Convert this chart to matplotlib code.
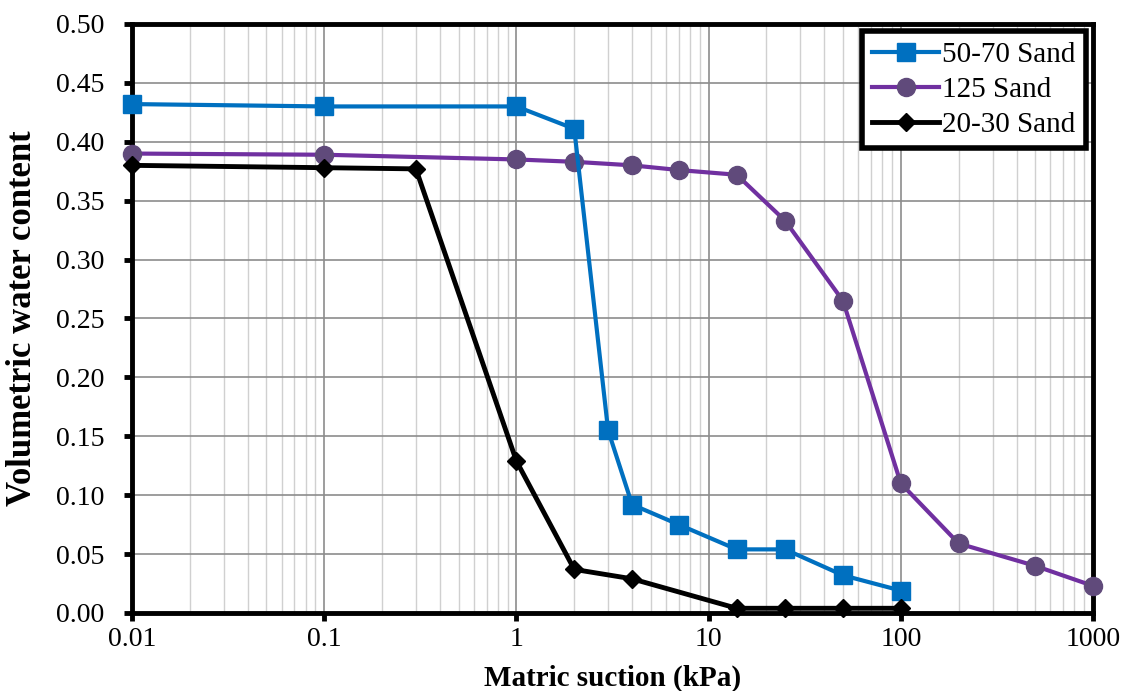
import matplotlib.pyplot as plt
from matplotlib.ticker import LogLocator, FixedLocator, NullFormatter

plt.rcParams['font.family'] = ['Liberation Serif', 'DejaVu Serif']

# Soil-water characteristic data
suction_5070 = [0.01, 0.1, 1, 2, 3, 4, 7, 14, 25, 50, 100]
theta_5070 = [0.432, 0.430, 0.430, 0.411, 0.155, 0.092, 0.075, 0.054, 0.054, 0.032, 0.019]

suction_125 = [0.01, 0.1, 1, 2, 4, 7, 14, 25, 50, 100, 200, 500, 1000]
theta_125 = [0.390, 0.389, 0.385, 0.383, 0.380, 0.376, 0.372, 0.333, 0.265, 0.110, 0.059, 0.040, 0.023]

suction_2030 = [0.01, 0.1, 0.3, 1, 2, 4, 14, 25, 50, 100]
theta_2030 = [0.380, 0.378, 0.377, 0.129, 0.037, 0.029, 0.004, 0.004, 0.004, 0.004]

x_ticks = [0.01, 0.1, 1, 10, 100, 1000]
x_tick_labels = ['0.01', '0.1', '1', '10', '100', '1000']

fig = plt.figure(figsize=(11.25, 6.91), dpi=100)
ax = fig.add_axes([0.1173, 0.1129, 0.8543, 0.8524])

ax.plot(suction_5070, theta_5070, color='#0070C0', lw=3, marker='s', ms=13,
        mfc='#0070C0', mec='#0070C0', label='50-70 Sand', zorder=4, clip_on=False)
ax.plot(suction_125, theta_125, color='#7030A0', lw=3, marker='o', ms=13,
        mfc='#604A7B', mec='#604A7B', label='125 Sand', zorder=3, clip_on=False)
ax.plot(suction_2030, theta_2030, color='black', lw=3.5, marker='D', ms=9,
        mfc='black', mec='black', label='20-30 Sand', zorder=5, clip_on=False)

ax.set_xscale('log')
ax.set_xlim(0.01, 1000)
ax.set_ylim(0, 0.5)

ax.xaxis.set_major_locator(FixedLocator(x_ticks))
ax.set_xticklabels(x_tick_labels)
ax.xaxis.set_minor_locator(LogLocator(base=10, subs=range(2, 10), numticks=20))
ax.xaxis.set_minor_formatter(NullFormatter())
ax.set_yticks([i * 0.05 for i in range(11)])
ax.set_yticklabels([f'{i * 0.05:.2f}' for i in range(11)])

ax.grid(which='major', color='#8c8c8c', lw=1.2)
ax.grid(which='minor', axis='x', color='#d0d0d0', lw=1.0)
ax.set_axisbelow(True)

for side in ['left', 'bottom', 'right', 'top']:
    ax.spines[side].set_linewidth(3.5)
    ax.spines[side].set_color('black')

ax.tick_params(which='major', direction='out', length=6, width=3.5, labelsize=20)
ax.tick_params(which='minor', length=0)
ax.tick_params(axis='y', pad=14)
ax.tick_params(axis='x', pad=4)

ax.set_xlabel('Matric suction (kPa)', fontsize=21, fontweight='bold')
ax.set_ylabel('Volumetric water content', fontsize=25, fontweight='bold')
ax.xaxis.set_label_coords(0.5, -0.088)
ax.yaxis.set_label_coords(-0.097, 0.5)

leg = ax.legend(loc='upper right', fontsize=21, frameon=True, fancybox=False,
                borderpad=0.35, handlelength=2.3, handletextpad=0.1,
                labelspacing=0.3, borderaxespad=0.25)
leg.get_frame().set_edgecolor('black')
leg.get_frame().set_linewidth(4)
leg.get_frame().set_alpha(1)

fig.savefig('out.png', dpi=100)
